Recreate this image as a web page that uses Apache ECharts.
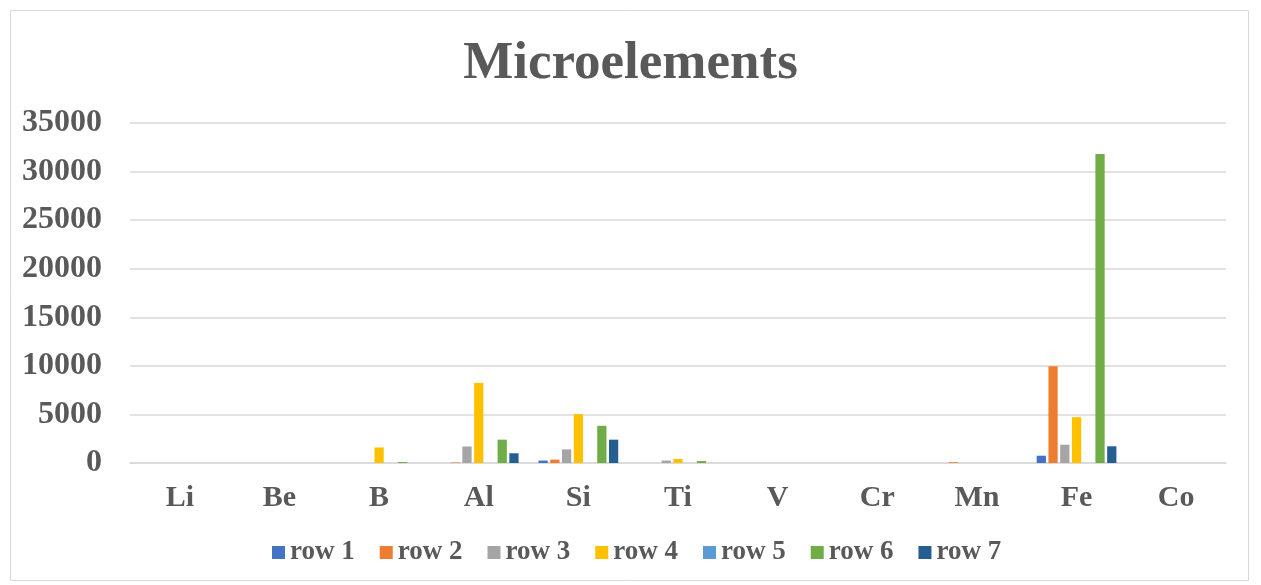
<!DOCTYPE html>
<html>
<head>
<meta charset="utf-8">
<script src="https://cdn.jsdelivr.net/npm/echarts@6/dist/echarts.min.js"></script>
<style>
html,body{margin:0;padding:0;background:#fff;}
#chart{width:1261px;height:585px;}
</style>
</head>
<body>
<div id="chart"></div>
<script>
const categories = ['Li','Be','B','Al','Si','Ti','V','Cr','Mn','Fe','Co'];
const seriesNames = ['row 1','row 2','row 3','row 4','row 5','row 6','row 7'];
const row1 = [0, 0, 0, 0, 250, 0, 0, 0, 0, 750, 0];
const row2 = [0, 0, 0, 50, 350, 0, 0, 0, 80, 9950, 0];
const row3 = [0, 0, 0, 1700, 1400, 250, 0, 0, 0, 1880, 0];
const row4 = [0, 0, 1600, 8250, 5030, 420, 0, 0, 0, 4720, 0];
const row5 = [0, 0, 0, 0, 0, 0, 0, 0, 0, 0, 0];
const row6 = [0, 0, 100, 2400, 3830, 200, 0, 0, 0, 31800, 0];
const row7 = [0, 0, 0, 1000, 2400, 0, 0, 0, 0, 1720, 0];
const yTicks = [0, 5000, 10000, 15000, 20000, 25000, 30000, 35000];
const colors = ['#4472C4','#ED7D31','#A5A5A5','#FFC000','#5B9BD5','#70AD47','#255E91'];

const rows = [row1,row2,row3,row4,row5,row6,row7];
const font = 'Liberation Serif, Times New Roman, serif';
const chart = echarts.init(document.getElementById('chart'));
chart.setOption({
  animation: false,
  color: colors,
  graphic: [{
    type: 'rect', left: 8, top: 8, shape: {width: 1238, height: 570},
    style: {fill: 'none', stroke: '#d9d9d9', lineWidth: 1}, silent: true
  }],
  title: {
    text: 'Microelements', left: 'center', top: 33,
    textStyle: {fontFamily: font, fontWeight: 'bold', fontSize: 53, color: '#595959'}
  },
  legend: {
    data: seriesNames, bottom: 14, left: 267,
    itemWidth: 13, itemHeight: 13, itemGap: 25,
    icon: 'rect',
    textStyle: {fontFamily: font, fontWeight: 'bold', fontSize: 27, color: '#595959'}
  },
  grid: {left: 130, right: 35, top: 123, bottom: 122, containLabel: false},
  xAxis: {
    type: 'category', data: categories,
    axisLine: {lineStyle: {color: '#d9d9d9', width: 1.5}},
    axisTick: {show: false},
    axisLabel: {fontFamily: font, fontWeight: 'bold', fontSize: 30, color: '#595959', margin: 20}
  },
  yAxis: {
    type: 'value', min: yTicks[0], max: yTicks[yTicks.length-1], interval: 5000,
    axisLine: {show: false}, axisTick: {show: false},
    splitLine: {lineStyle: {color: '#d9d9d9', width: 1.5}},
    axisLabel: {fontFamily: font, fontWeight: 'bold', fontSize: 32, color: '#595959', margin: 28,
      formatter: v => String(v)}
  },
  series: seriesNames.map((n, i) => ({
    name: n, type: 'bar', data: rows[i],
    barCategoryGap: '20%', barGap: '27%',
    itemStyle: {color: colors[i]}
  }))
});
</script>
</body>
</html>
